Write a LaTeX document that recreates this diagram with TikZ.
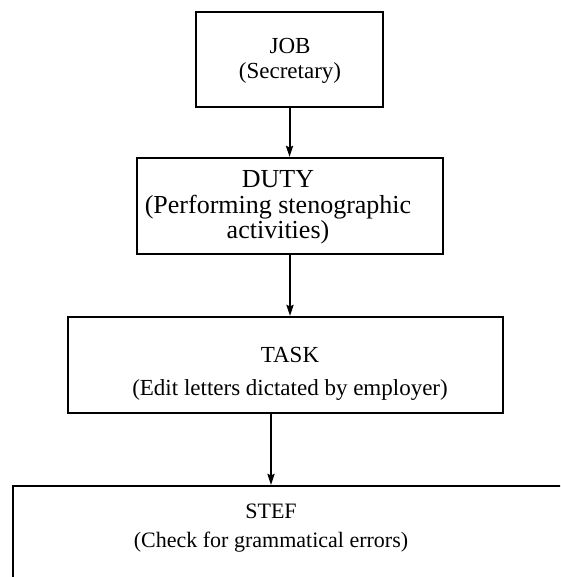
\documentclass[tikz,border=0pt]{standalone}
\usepackage{fontspec}
\setmainfont{Liberation Serif}
\usetikzlibrary{arrows.meta}
\begin{document}
\begin{tikzpicture}[x=1pt,y=-1pt,
  stage/.style={draw, line width=2.2pt, inner sep=0pt},
  caption/.style={align=center, inner sep=0pt},
  link/.style={-{Stealth[length=11pt,width=7pt,inset=1.5pt]}, line width=2pt}]
  \useasboundingbox (0,0) rectangle (560,577);
  \clip (0,0) rectangle (560,577);

  % boxes of the hierarchy
  \node[stage, minimum width=187pt, minimum height=95pt] (job)  at (289.5,59.5) {};
  \node[stage, minimum width=306pt, minimum height=96pt] (duty) at (290,206) {};
  \node[stage, minimum width=435pt, minimum height=96pt] (task) at (285.5,365) {};
  \node[stage, minimum width=567pt, minimum height=134pt] (step) at (296.5,553) {};

  % texts
  \node[caption, font=\fontsize{23}{25}\selectfont] (jobtext) at (290,61)
    {JOB\\(Secretary)};
  \node[caption, font=\fontsize{26}{25.5}\selectfont] (dutytext) at (278,207.5)
    {DUTY\\(Performing stenographic\\activities)};
  \node[caption, font=\fontsize{23}{33}\selectfont] (tasktext) at (290,373.5)
    {TASK\\(Edit letters dictated by employer)};
  \node[caption, font=\fontsize{22}{29}\selectfont] (steptext) at (271,528.5)
    {STEF\\(Check for grammatical errors)};

  % connectors
  \draw[link] (job.south) -- (job.south |- duty.north);
  \draw[link] (duty.south) -- (duty.south |- task.north);
  \draw[link] (task.south -| steptext.center) -- (step.north -| steptext.center);
\end{tikzpicture}
\end{document}
